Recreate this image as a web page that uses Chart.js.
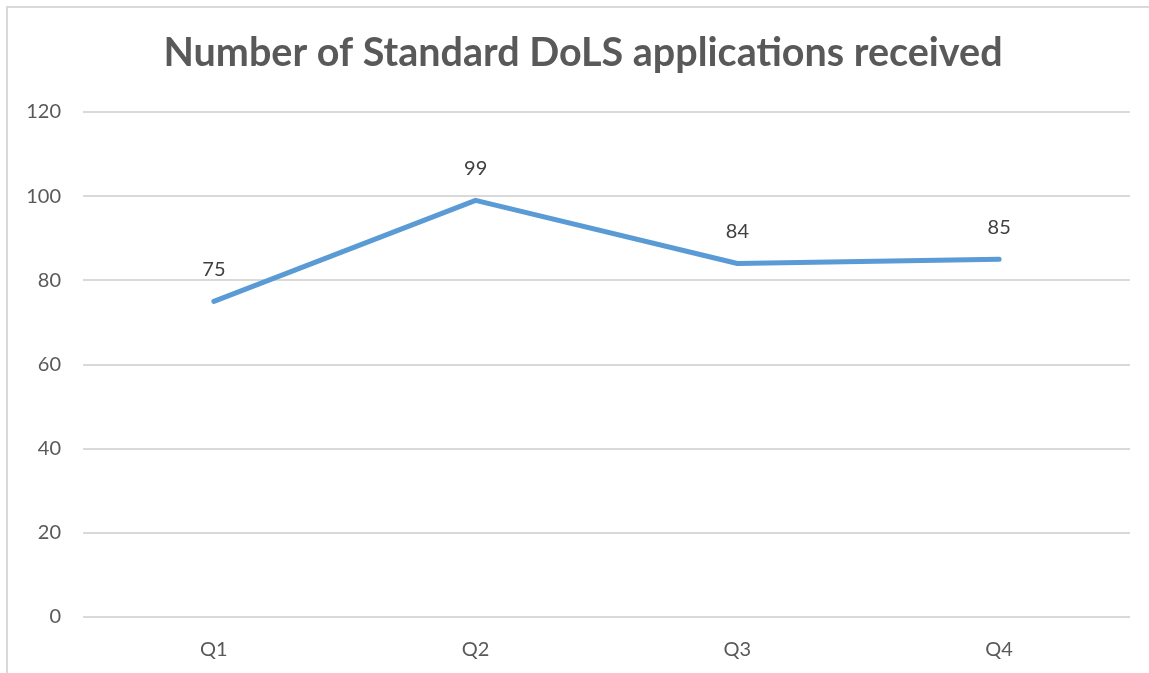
<!DOCTYPE html>
<html>
<head>
<meta charset="utf-8">
<script src="https://cdn.jsdelivr.net/npm/chart.js@4.4.1/dist/chart.umd.min.js"></script>
<style>
  html, body { margin: 0; padding: 0; background: #fff; overflow: hidden; }
  #frame { position: absolute; left: 6px; top: 6px; width: 1200px; height: 720px; border: 2px solid #d9d9d9; box-sizing: border-box; }
  #wrap { position: absolute; left: 0; top: 0; width: 1149px; height: 673px; }
</style>
</head>
<body>
<div id="frame"></div>
<div id="wrap"><canvas id="lineChart"></canvas></div>
<script>
// chart data
const quarters = ['Q1', 'Q2', 'Q3', 'Q4'];
const applications = [75, 99, 84, 85];
const yTicks = [0, 20, 40, 60, 80, 100, 120];
const chartTitle = 'Number of Standard DoLS applications received';

const fontFamily = "Lato, 'Open Sans', 'Liberation Sans', sans-serif";

// draws the numbers above each point, and the title (sits a bit right of centre)
const pointLabels = {
    id: 'pointLabels',
    afterDatasetsDraw(chart) {
        const ctx = chart.ctx;
        const meta = chart.getDatasetMeta(0);
        ctx.save();
        ctx.font = '20px ' + fontFamily;
        ctx.fillStyle = '#404040';
        ctx.textAlign = 'center';
        ctx.textBaseline = 'middle';
        meta.data.forEach(function(pt, i) {
            ctx.fillText(String(applications[i]), pt.x, pt.y - 32);
        });

        ctx.font = 'bold 39.5px ' + fontFamily;
        ctx.fillStyle = '#595959';
        ctx.fillText(chartTitle, 583, 53);
        ctx.restore();
    }
};

document.addEventListener("DOMContentLoaded", function() {
    const ctx = document.getElementById('lineChart').getContext('2d');
    new Chart(ctx, {
        type: 'line',
        data: {
            labels: quarters,
            datasets: [{
                data: applications,
                borderColor: '#5b9bd5',
                borderWidth: 5,
                borderCapStyle: 'round',
                borderJoinStyle: 'round',
                pointRadius: 0,
                tension: 0,
                fill: false
            }]
        },
        options: {
            responsive: true,
            maintainAspectRatio: false,
            animation: false,
            layout: { padding: { top: 112, right: 19, bottom: 0, left: 0 } },
            plugins: {
                legend: { display: false },
                tooltip: { enabled: false },
                title: { display: false }
            },
            scales: {
                x: {
                    offset: true,
                    grid: { display: false, drawTicks: false },
                    border: { display: false },
                    ticks: { color: '#595959', font: { family: fontFamily, size: 20 }, padding: 21 },
                    afterFit: function(scale) { scale.height = 56; }
                },
                y: {
                    min: 0,
                    max: 120,
                    afterBuildTicks: function(scale) {
                        scale.ticks = yTicks.map(v => ({ value: v }));
                    },
                    grid: { color: '#d9d9d9', lineWidth: 2, drawTicks: false },
                    border: { display: false },
                    ticks: { color: '#595959', font: { family: fontFamily, size: 20 }, padding: 22 },
                    afterFit: function(scale) { scale.width = 83; }
                }
            }
        },
        plugins: [pointLabels]
    });
});
</script>
</body>
</html>
